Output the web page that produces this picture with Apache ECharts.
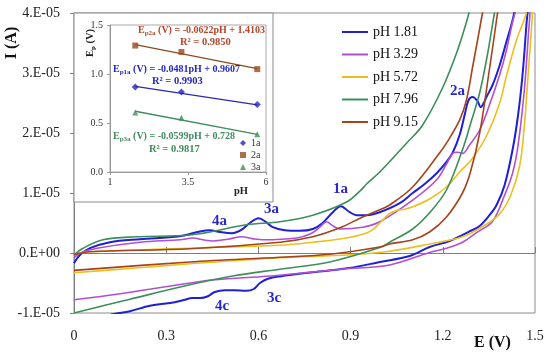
<!DOCTYPE html>
<html><head><meta charset="utf-8">
<script src="https://cdn.jsdelivr.net/npm/echarts/dist/echarts.min.js"></script>
<style>html,body{margin:0;padding:0;background:#fff}#c{width:550px;height:356px}</style>
</head><body><div id="c"></div>
<script>
// ---- Data (E in V, I in µA; 10 µA = 1.E-05 A) ----
const seriesNames = ['pH 1.81', 'pH 3.29', 'pH 5.72', 'pH 7.96', 'pH 9.15'];
const pH181 = [[0,-1.7],[0.02,-0.3],[0.052,0.8],[0.117,1.8],[0.215,2.3],[0.345,2.8],[0.41,3.6],[0.442,3.8],[0.475,3.5],[0.514,3.3],[0.546,3.9],[0.572,5.0],[0.601,5.8],[0.624,5.2],[0.647,4.3],[0.686,3.8],[0.735,3.7],[0.777,4.0],[0.809,5.0],[0.842,6.8],[0.868,7.8],[0.897,6.8],[0.92,6.3],[0.952,6.3],[0.995,6.8],[1.06,8.3],[1.102,10],[1.141,11.5],[1.18,13.3],[1.212,15.2],[1.232,16.7],[1.255,19.7],[1.271,23],[1.284,25.5],[1.297,26],[1.313,25.3],[1.323,24.3],[1.333,25],[1.342,26],[1.362,28],[1.385,31.3],[1.407,35.2],[1.427,38.8],[1.44,42],[1.46,48],[1.478,42],[1.472,38],[1.46,30],[1.445,23],[1.427,17.2],[1.401,11.3],[1.375,8],[1.352,6.3],[1.32,4.5],[1.287,3.6],[1.222,2],[1.157,1],[1.092,-0.5],[0.995,-1.5],[0.897,-2.5],[0.777,-3.2],[0.67,-3.9],[0.631,-4.3],[0.605,-5.0],[0.585,-6.0],[0.56,-6.3],[0.523,-6.2],[0.491,-6.2],[0.458,-6.5],[0.436,-7.2],[0.41,-7.5],[0.384,-7.5],[0.361,-7.8],[0.328,-8.2],[0.247,-8.8],[0.182,-9.7],[0.127,-10.2],[0.068,-11]];
const pH329 = [[0,-0.8],[0.02,0],[0.075,0.8],[0.215,1.8],[0.345,2.2],[0.387,2.5],[0.42,2.2],[0.452,2.0],[0.5,2.3],[0.546,2.7],[0.58,2.4],[0.614,2.2],[0.725,2.5],[0.77,3.2],[0.8,4.3],[0.822,5.2],[0.84,4.6],[0.865,4.0],[0.939,4.3],[0.995,5.2],[1.102,8.8],[1.18,12.2],[1.212,14.8],[1.232,16.6],[1.248,16.8],[1.264,16.6],[1.287,18],[1.32,20.5],[1.352,24.7],[1.385,29.7],[1.407,33.8],[1.427,38.5],[1.445,42],[1.465,48],[1.485,42],[1.478,36],[1.465,27],[1.445,18],[1.427,13.3],[1.4,9.5],[1.362,5.3],[1.31,3.4],[1.264,1.8],[1.212,0.8],[1.157,0.1],[1.027,-2],[0.87,-2.7],[0.67,-3.7],[0.45,-4.5],[0.377,-5],[0.25,-6],[0.15,-6.8],[0,-7.8]];
const pH572 = [[0,-0.2],[0.052,0.2],[0.2,0.5],[0.377,0.8],[0.67,1.3],[0.777,1.8],[0.887,2.5],[0.95,3.3],[0.972,3.9],[0.995,5.0],[1.027,6.6],[1.05,7.1],[1.075,7.3],[1.102,7.7],[1.157,9],[1.212,11],[1.255,13.5],[1.297,15.8],[1.342,19.5],[1.385,25],[1.407,29.5],[1.44,35.5],[1.472,40],[1.482,43],[1.488,48],[1.495,43],[1.492,40],[1.478,30],[1.465,21],[1.45,14.5],[1.42,9.5],[1.385,6.5],[1.342,4.8],[1.264,2.7],[1.157,1.5],[1.027,0.3],[0.9,-0.3],[0.67,-0.8],[0.377,-1.8],[0.2,-2.5],[0,-3.3]];
const pH796 = [[0,-0.3],[0.03,0.8],[0.094,2.2],[0.2,2.7],[0.377,3],[0.562,4.7],[0.67,5.2],[0.777,6.3],[0.887,8.5],[0.93,10.3],[0.952,11.5],[0.995,13.5],[1.082,18.3],[1.134,21.3],[1.199,27.5],[1.248,33.8],[1.281,39.2],[1.294,42],[1.33,48],[1.375,42],[1.368,40],[1.345,33],[1.32,26.7],[1.29,21.5],[1.264,17.2],[1.212,10.5],[1.157,6.7],[1.102,4],[1.027,1.8],[0.995,0.9],[0.832,-1.5],[0.67,-2.7],[0.52,-3.8],[0.377,-5.3],[0.182,-7.7],[0,-10]];
const pH915 = [[0,-0.3],[0.05,0.2],[0.377,0.7],[0.67,1.8],[0.777,2.7],[0.865,4.2],[0.939,6],[0.995,7.2],[1.027,8],[1.102,11],[1.19,16.7],[1.212,18.3],[1.255,22.2],[1.277,25.5],[1.297,31],[1.315,36],[1.329,40],[1.34,43],[1.36,48],[1.385,43],[1.378,40],[1.35,30],[1.32,20],[1.29,13.5],[1.264,10],[1.212,6],[1.157,3.5],[1.102,2.2],[1.027,1.5],[0.995,1.0],[0.832,-0.2],[0.67,-0.7],[0.377,-1.5],[0,-2.9]];
const seriesData = [pH181, pH329, pH572, pH796, pH915];
const seriesColors = ['#1f1fd6', '#b04fd4', '#e9c01e', '#3e8e5a', '#a5431c'];

const xTickLabels = ['0', '0.3', '0.6', '0.9', '1.2', '1.5'];
const yTickValues = [-10, 0, 10, 20, 30, 40];
const yTickLabels = ['-1.E-05', '0.E+00', '1.E-05', '2.E-05', '3.E-05', '4.E-05'];

// inset: peak potential vs pH
const insetPH = [1.81, 3.29, 5.72];
const ep1a = [0.868, 0.817, 0.689];
const ep2a = [1.29, 1.225, 1.05];
const ep3a = [0.607, 0.553, 0.385];
const fit1a = [[1.81, 0.874], [5.72, 0.686]];
const fit2a = [[1.81, 1.30], [5.72, 1.055]];
const fit3a = [[1.81, 0.62], [5.72, 0.385]];
const insetXTicks = ['1', '3.5', '6'];
const insetYTicks = ['0.0', '0.5', '1.0', '1.5'];

const peakLabels = ['2a', '1a', '3a', '4a', '3c', '4c'];

// ---- Chart ----
const FF = 'Liberation Serif';
const chart = echarts.init(document.getElementById('c'));
const mainSeries = seriesNames.map((n, i) => ({
  name: n, type: 'line', xAxisIndex: 0, yAxisIndex: 0,
  data: seriesData[i], showSymbol: false, smooth: 0.35, clip: true,
  lineStyle: { color: seriesColors[i], width: i === 0 ? 2 : 1.6 },
  itemStyle: { color: seriesColors[i] }
}));
const c1a = '#2424c0', c2a = '#9a4a1c', c3a = '#3f8c5c';
const zip = (xs, ys) => xs.map((x, i) => [x, ys[i]]);
const insetSeries = [
  { type: 'line', xAxisIndex: 1, yAxisIndex: 1, data: fit2a, showSymbol: false, lineStyle: { color: '#8b4a1e', width: 1.3 }, z: 10 },
  { type: 'line', xAxisIndex: 1, yAxisIndex: 1, data: fit1a, showSymbol: false, lineStyle: { color: '#2a2ab0', width: 1.3 }, z: 10 },
  { type: 'line', xAxisIndex: 1, yAxisIndex: 1, data: fit3a, showSymbol: false, lineStyle: { color: '#3f8c5c', width: 1.3 }, z: 10 },
  { name: '1a', type: 'scatter', xAxisIndex: 1, yAxisIndex: 1, data: zip(insetPH, ep1a), symbol: 'diamond', symbolSize: 7, itemStyle: { color: c1a }, z: 11 },
  { name: '2a', type: 'scatter', xAxisIndex: 1, yAxisIndex: 1, data: zip(insetPH, ep2a), symbol: 'rect', symbolSize: 6, itemStyle: { color: c2a }, z: 11 },
  { name: '3a', type: 'scatter', xAxisIndex: 1, yAxisIndex: 1, data: zip(insetPH, ep3a), symbol: 'triangle', symbolSize: 6, itemStyle: { color: c3a }, z: 11 }
];

function eq(left, top, sub, rest, color) {
  return { type: 'text', left: left, top: top, z: 20, style: {
    text: '{m|E}{s|' + sub + '}{m|' + rest + '}',
    rich: {
      m: { fontSize: 10, fontWeight: 'bold', fontFamily: FF, fill: color, color: color },
      s: { fontSize: 7, fontWeight: 'bold', fontFamily: FF, fill: color, color: color, padding: [6, 0, 0, 0] }
    } } };
}
function txt(left, top, s, color, size) {
  return { type: 'text', left: left, top: top, z: 20, style: { text: s, fill: color, font: 'bold ' + size + 'px "' + FF + '"' } };
}
const annColor = '#2828cc';
const annPos = [[450, 84], [333, 182], [264, 202], [212, 214], [267, 291], [215, 299]];

chart.setOption({
  animation: false,
  backgroundColor: '#fff',
  grid: [
    { left: 74, right: 15, top: 13, bottom: 43, show: true, borderColor: '#8c8c8c', borderWidth: 1 },
    { left: 110, top: 25, width: 156, height: 147, show: true, borderColor: '#a8a8a8', borderWidth: 1, z: 10 }
  ],
  xAxis: [
    { gridIndex: 0, type: 'value', min: 0, max: 1.5, interval: 0.3,
      axisLine: { lineStyle: { color: '#7f7f7f' } },
      axisTick: { inside: true, length: 6, lineStyle: { color: '#7f7f7f' } },
      splitLine: { show: false },
      axisLabel: { margin: 16, fontSize: 14, color: '#222', fontFamily: FF, formatter: v => xTickLabels[Math.round(v / 0.3)] } },
    { gridIndex: 1, type: 'value', min: 1, max: 6, interval: 2.5, z: 10,
      axisLine: { lineStyle: { color: '#999' } },
      axisTick: { show: true, length: 3, lineStyle: { color: '#999' } },
      splitLine: { show: false },
      axisLabel: { margin: 5, fontSize: 10, color: '#333', fontFamily: FF, formatter: v => insetXTicks[Math.round((v - 1) / 2.5)] } }
  ],
  yAxis: [
    { gridIndex: 0, type: 'value', min: -10, max: 40, interval: 10,
      axisLine: { show: true, lineStyle: { color: '#7f7f7f' } },
      axisTick: { show: true, length: 4, lineStyle: { color: '#7f7f7f' } },
      splitLine: { show: false },
      axisLabel: { margin: 14, fontSize: 14, color: '#222', fontFamily: FF, formatter: v => yTickLabels[yTickValues.indexOf(Math.round(v))] } },
    { gridIndex: 1, type: 'value', min: 0, max: 1.5, interval: 0.5, z: 10,
      axisLine: { show: true, lineStyle: { color: '#999' } },
      axisTick: { show: true, length: 3, lineStyle: { color: '#999' } },
      splitLine: { show: false },
      axisLabel: { margin: 7, fontSize: 10, color: '#333', fontFamily: FF, formatter: v => insetYTicks[Math.round(v / 0.5)] } }
  ],
  legend: [
    { data: seriesNames, orient: 'vertical', left: 337, top: 20, itemWidth: 26, itemHeight: 2, itemGap: 8.5,
      icon: 'rect', selectedMode: false, textStyle: { fontSize: 14, color: '#111', fontFamily: FF } },
    { data: [{ name: '1a', icon: 'diamond' }, { name: '2a', icon: 'rect' }, { name: '3a', icon: 'triangle' }],
      orient: 'vertical', left: 235, top: 133, itemWidth: 6, itemHeight: 6, itemGap: 2, z: 12,
      selectedMode: false, textStyle: { fontSize: 10, color: '#333', fontFamily: FF } }
  ],
  series: mainSeries.concat(insetSeries),
  graphic: [
    { type: 'rect', z: 1, shape: { x: 74, y: 13, width: 199, height: 189 }, style: { fill: '#fff', stroke: '#8c8c8c', lineWidth: 1 } },
    { type: 'text', z: 20, x: 12, y: 43, rotation: Math.PI / 2, style: { text: 'I (A)', font: 'bold 16px "' + FF + '"', fill: '#111', align: 'center', verticalAlign: 'middle' } },
    { type: 'text', z: 20, left: 474, top: 335, style: { text: 'E (V)', font: 'bold 16px "' + FF + '"', fill: '#111' } },
    { type: 'text', z: 20, x: 90, y: 43, rotation: Math.PI / 2, style: { text: '{m|E}{s|p}{m| (V)}', align: 'center', verticalAlign: 'middle',
        rich: { m: { fontSize: 10.5, fontWeight: 'bold', fontFamily: FF, fill: '#222' }, s: { fontSize: 7, fontWeight: 'bold', fontFamily: FF, fill: '#222', padding: [6, 0, 0, 0] } } } },
    txt(234, 186, 'pH', '#222', 10.5),
    eq(138, 25, 'p2a', ' (V) = -0.0622pH + 1.4103', '#b5452b'),
    txt(180, 37, 'R² = 0.9850', '#b5452b', 10.5),
    eq(113, 64, 'p1a', ' (V) = -0.0481pH + 0.9607', '#2626c4'),
    txt(152, 76, 'R² = 0.9903', '#2626c4', 10.5),
    eq(113, 131, 'p3a', ' (V) = -0.0599pH + 0.728', '#3f8c5c'),
    txt(149, 144, 'R² = 0.9817', '#3f8c5c', 10.5)
  ].concat(peakLabels.map((s, i) => txt(annPos[i][0], annPos[i][1], s, annColor, 15)))
});
</script></body></html>
